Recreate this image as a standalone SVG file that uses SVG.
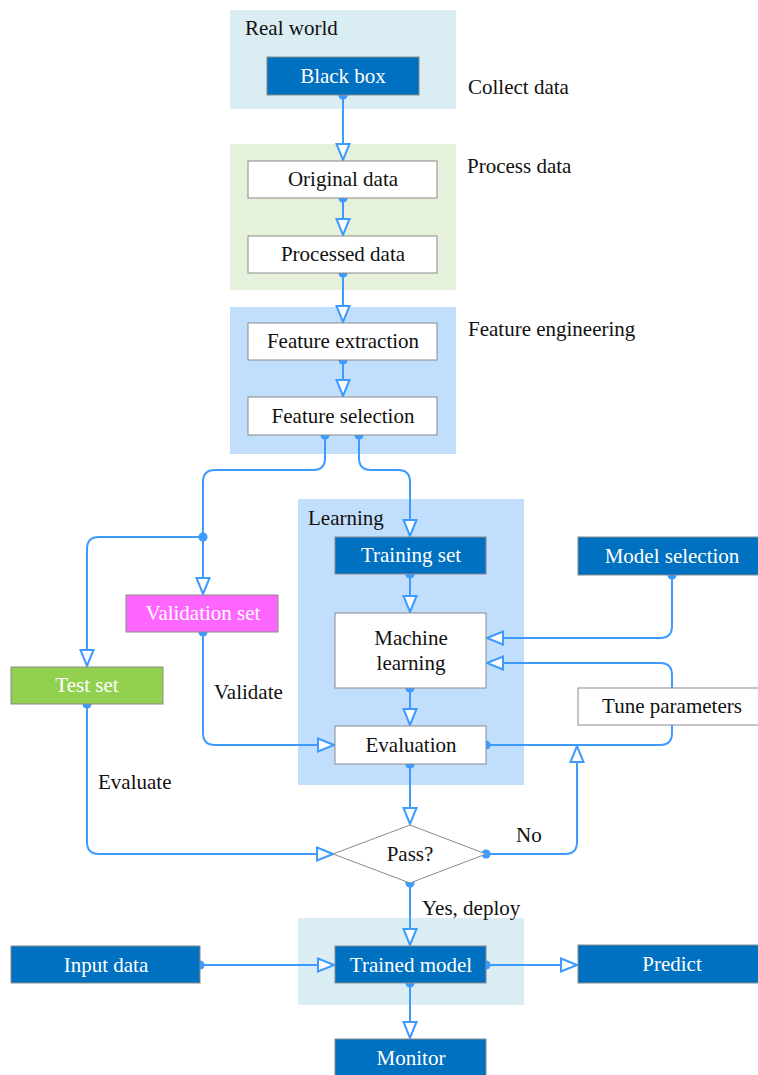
<svg xmlns="http://www.w3.org/2000/svg" width="758" height="1075" viewBox="0 0 758 1075">
  <style>
    text { font-family: "Liberation Serif", "Times New Roman", serif; font-size: 21px; fill: #111; }
    .c { text-anchor: middle; }
    .w { fill: #fff; }
    .box { stroke: #8a8a8a; stroke-width: 1; }
    .white { fill: #fff; }
    .blue { fill: #0070C0; }
    .panel-a { fill: #DAEDF3; }
    .panel-g { fill: #E5F1DA; }
    .panel-b { fill: #C1DFFC; }
    .line { fill: none; stroke: #3D9BFF; stroke-width: 2; }
    .edge { marker-start: url(#dot); marker-end: url(#arrow); }
  </style>
  <defs>
    <marker id="arrow" markerUnits="userSpaceOnUse" markerWidth="18" markerHeight="16" viewBox="0 0 18 16" refX="17" refY="8" orient="auto">
      <path d="M1,1.5 L17,8 L1,14.5 Z" fill="#fff" stroke="#3D9BFF" stroke-width="2"/>
    </marker>
    <marker id="dot" markerUnits="userSpaceOnUse" markerWidth="12" markerHeight="12" viewBox="0 0 12 12" refX="6" refY="6">
      <circle cx="6" cy="6" r="4.6" fill="#3D9BFF"/>
    </marker>
  </defs>

  <!-- stage panels -->
  <g id="panels">
    <rect class="panel-a" x="230" y="10" width="226" height="99"/>
    <rect class="panel-g" x="230" y="144" width="226" height="146"/>
    <rect class="panel-b" x="230" y="307" width="226" height="147"/>
    <rect class="panel-b" x="298" y="499" width="226" height="286"/>
    <rect class="panel-a" x="298" y="918" width="226" height="87"/>
  </g>

  <!-- stage labels -->
  <g id="labels">
    <text x="245" y="35">Real world</text>
    <text x="468" y="94">Collect data</text>
    <text x="467" y="173">Process data</text>
    <text x="468" y="336">Feature engineering</text>
    <text x="308" y="525">Learning</text>
    <text x="214" y="699">Validate</text>
    <text x="98" y="789">Evaluate</text>
    <text x="516" y="842">No</text>
    <text x="422" y="915">Yes, deploy</text>
  </g>

  <!-- connectors: dot at the source end, open arrowhead at the target end -->
  <g id="connectors">
    <path class="line edge" d="M343,95 V160"/>
    <path class="line edge" d="M343,198 V235"/>
    <path class="line edge" d="M343,273 V322"/>
    <path class="line edge" d="M343,360 V396"/>
    <path class="line edge" d="M325,435 V458 Q325,470 313,470 H215 Q203,470 203,482 V594"/>
    <path class="line edge" d="M203,537 H99 Q87,537 87,549 V666"/>
    <path class="line edge" d="M359,435 V458 Q359,470 371,470 H398 Q410,470 410,482 V536"/>
    <path class="line edge" d="M410,574 V612"/>
    <path class="line edge" d="M410,688 V725"/>
    <path class="line edge" d="M410,764 V824"/>
    <path class="line edge" d="M672,575 V626 Q672,638 660,638 H487"/>
    <path class="line" marker-end="url(#arrow)" d="M672,688 V675 Q672,663 660,663 H487"/>
    <path class="line" marker-start="url(#dot)" d="M486,745 H660 Q672,745 672,733 V725"/>
    <path class="line edge" d="M486,854 H565 Q577,854 577,842 V746"/>
    <path class="line edge" d="M203,632 V733 Q203,745 215,745 H334"/>
    <path class="line edge" d="M87,704 V842 Q87,854 99,854 H333"/>
    <path class="line edge" d="M410,883 V945"/>
    <path class="line edge" d="M200,965 H334"/>
    <path class="line edge" d="M486,965 H577"/>
    <path class="line edge" d="M410,983 V1038"/>
  </g>

  <!-- nodes -->
  <g id="black-box"><rect class="box blue" x="267" y="57" width="152" height="38"/><text class="c w" x="343" y="83">Black box</text></g>
  <g id="original-data"><rect class="box white" x="248" y="161" width="189" height="37"/><text class="c" x="343" y="186">Original data</text></g>
  <g id="processed-data"><rect class="box white" x="248" y="236" width="189" height="37"/><text class="c" x="343" y="261">Processed data</text></g>
  <g id="feature-extraction"><rect class="box white" x="248" y="323" width="189" height="37"/><text class="c" x="343" y="348">Feature extraction</text></g>
  <g id="feature-selection"><rect class="box white" x="248" y="397" width="189" height="38"/><text class="c" x="343" y="423">Feature selection</text></g>
  <g id="training-set"><rect class="box blue" x="335" y="537" width="151" height="37"/><text class="c w" x="411" y="562">Training set</text></g>
  <g id="model-selection"><rect class="box blue" x="578" y="537" width="182" height="38"/><text class="c w" x="672" y="563">Model selection</text></g>
  <g id="validation-set"><rect class="box" fill="#FF66FF" x="126" y="595" width="152" height="37"/><text class="c w" x="203" y="620">Validation set</text></g>
  <g id="machine-learning"><rect class="box white" x="335" y="613" width="151" height="75"/><text class="c" x="411" y="645">Machine</text><text class="c" x="411" y="670">learning</text></g>
  <g id="test-set"><rect class="box" fill="#92D050" x="11" y="667" width="152" height="37"/><text class="c w" x="87" y="692">Test set</text></g>
  <g id="tune-parameters"><rect class="box white" x="578" y="688" width="182" height="37"/><text class="c" x="672" y="713">Tune parameters</text></g>
  <g id="evaluation"><rect class="box white" x="335" y="726" width="151" height="38"/><text class="c" x="411" y="752">Evaluation</text></g>
  <g id="pass"><polygon class="box white" points="410,825 486,854 410,883 333,854"/><text class="c" x="410" y="861">Pass?</text></g>
  <g id="input-data"><rect class="box blue" x="11" y="946" width="189" height="37"/><text class="c w" x="106" y="972">Input data</text></g>
  <g id="trained-model"><rect class="box blue" x="335" y="946" width="151" height="37"/><text class="c w" x="411" y="972">Trained model</text></g>
  <g id="predict"><rect class="box blue" x="578" y="945" width="182" height="38"/><text class="c w" x="672" y="971">Predict</text></g>
  <g id="monitor"><rect class="box blue" x="335" y="1039" width="151" height="40"/><text class="c w" x="411" y="1065">Monitor</text></g>
</svg>
